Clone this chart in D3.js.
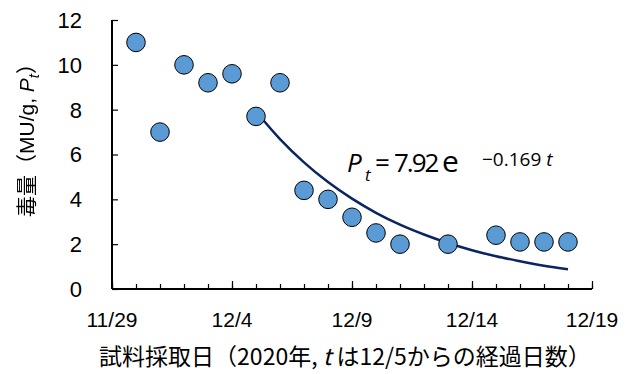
<!DOCTYPE html>
<html>
<head>
<meta charset="utf-8">
<script src="https://cdn.jsdelivr.net/npm/d3@7"></script>
<style>
  body { margin: 0; background: #fff; }
  svg { display: block; }
</style>
</head>
<body>
<script>
// sample dates (day offset from 11/29) and toxin values
var sampleDays = [1, 2, 3, 4, 5, 6, 7, 8, 9, 10, 11, 12, 14, 16, 17, 18, 19];
var toxin = [11.0, 7.0, 10.0, 9.2, 9.6, 7.7, 9.2, 4.4, 4.0, 3.2, 2.5, 2.0, 2.0, 2.4, 2.1, 2.1, 2.1];
// fitted curve, read at each day from 12/5 (t=0) to 12/18
var fitDays = [6, 7, 8, 9, 10, 11, 12, 13, 14, 15, 16, 17, 18, 19];
var fitVals = [7.92, 6.69, 5.65, 4.77, 4.03, 3.40, 2.87, 2.43, 2.05, 1.73, 1.46, 1.24, 1.04, 0.88];
var xTickDays = [0, 5, 10, 15, 20];
var xTickLabels = ["11/29", "12/4", "12/9", "12/14", "12/19"];
var yTicks = [0, 2, 4, 6, 8, 10, 12];

var width = 634, height = 374;
var margin = {top: 20, right: 42, bottom: 85, left: 112};
var plotW = width - margin.left - margin.right;
var plotH = height - margin.top - margin.bottom;

var svg = d3.select("body").append("svg")
    .attr("width", width)
    .attr("height", height);

// filter forcing glyphs to plain black (keeps alpha)
svg.append("defs").append("filter")
    .attr("id", "black")
    .append("feColorMatrix")
    .attr("type", "matrix")
    .attr("values", "0 0 0 0 0  0 0 0 0 0  0 0 0 0 0  0 0 0 1 0");

var g = svg.append("g")
    .attr("transform", "translate(" + margin.left + "," + margin.top + ")");

var x = d3.scaleLinear().domain([0, 20]).range([0, plotW]);
var y = d3.scaleLinear().domain([0, 12]).range([plotH, 0]);

var numFont = "'Liberation Sans', Arial, sans-serif";
var jpFont = "'Noto Sans CJK JP', 'Noto Sans CJK SC', sans-serif";

// minor ticks on x (every day), inside
var xMinor = g.append("g")
    .attr("transform", "translate(0," + plotH + ")")
    .call(d3.axisTop(x).tickValues(d3.range(0, 21)).tickSize(5).tickFormat(""));
xMinor.select(".domain").remove();
xMinor.selectAll("line").attr("stroke", "#000").attr("stroke-width", 1.2);

// major ticks on x
var xAxis = g.append("g")
    .attr("transform", "translate(0," + plotH + ")")
    .call(d3.axisTop(x).tickValues(xTickDays).tickSize(8).tickFormat(""));
xAxis.select(".domain").remove();
xAxis.selectAll("line").attr("stroke", "#000").attr("stroke-width", 1.2);

g.selectAll(".xlab")
    .data(xTickDays)
    .enter().append("text")
    .attr("class", "xlab")
    .attr("x", function(d) { return x(d); })
    .attr("y", plotH + 38)
    .attr("text-anchor", "middle")
    .style("fill", "#000")
    .style("font-family", numFont)
    .style("font-size", "21px")
    .text(function(d, i) { return xTickLabels[i]; });

// y axis
var yAxis = g.append("g")
    .call(d3.axisRight(y).tickValues(yTicks).tickSize(6).tickFormat(""));
yAxis.select(".domain").remove();
yAxis.selectAll("line").attr("stroke", "#000").attr("stroke-width", 1.2);

g.selectAll(".ylab")
    .data(yTicks)
    .enter().append("text")
    .attr("class", "ylab")
    .attr("x", -30)
    .attr("y", function(d) { return y(d); })
    .attr("dy", "0.36em")
    .attr("text-anchor", "end")
    .style("fill", "#000")
    .style("font-family", numFont)
    .style("font-size", "22px")
    .text(function(d) { return d; });

// axis lines
g.append("line")
    .attr("x1", 0).attr("x2", 0)
    .attr("y1", y(12)).attr("y2", plotH)
    .attr("stroke", "#000").attr("stroke-width", 2);
g.append("line")
    .attr("x1", 0).attr("x2", x(20))
    .attr("y1", plotH).attr("y2", plotH)
    .attr("stroke", "#000").attr("stroke-width", 2);

// fitted curve
var line = d3.line()
    .x(function(d, i) { return x(fitDays[i]); })
    .y(function(d) { return y(d); })
    .curve(d3.curveMonotoneX);

g.append("path")
    .datum(fitVals)
    .attr("d", line)
    .attr("fill", "none")
    .attr("stroke", "#0b2563")
    .attr("stroke-width", 2.5);

// points
g.selectAll(".dot")
    .data(toxin)
    .enter().append("circle")
    .attr("class", "dot")
    .attr("cx", function(d, i) { return x(sampleDays[i]); })
    .attr("cy", function(d) { return y(d); })
    .attr("r", 9.3)
    .attr("fill", "#5b9bd5")
    .attr("stroke", "#000")
    .attr("stroke-width", 1);

// equation, one text element
var eq = svg.append("text")
    .style("fill", "#000")
    .style("font-family", "'Open Sans', 'Noto Sans', sans-serif")
    .style("font-size", "26px");
eq.append("tspan").attr("x", 347).attr("y", 172)
    .style("font-style", "italic").text("P");
eq.append("tspan").attr("x", 365).attr("y", 181)
    .style("font-size", "17px").style("font-style", "italic").text("t");
eq.append("tspan").attr("x", 375).attr("y", 172).text("=");
eq.append("tspan").attr("x", 394).attr("y", 172)
    .style("letter-spacing", "-2px").text("7.92");
eq.append("tspan").attr("x", 442).attr("y", 172)
    .style("font-size", "30px").text("e");
eq.append("tspan").attr("x", 482).attr("y", 166)
    .style("font-size", "19px").text("\u22120.169 ");
eq.append("tspan").style("font-size", "19px").style("font-style", "italic").text("t");

// y axis title
var yt = svg.append("g")
    .attr("filter", "url(#black)")
    .append("text")
    .attr("transform", "translate(34,135) rotate(-90)")
    .attr("text-anchor", "middle")
    .style("fill", "#000")
    .style("font-family", jpFont)
    .style("font-size", "21px");
yt.append("tspan").text("毒量（");
yt.append("tspan").style("font-family", numFont).text("MU/g,  ");
yt.append("tspan").style("font-style", "italic").style("font-family", numFont).text("P");
yt.append("tspan").style("font-style", "italic").style("font-family", numFont)
    .style("font-size", "15px").attr("dy", 5).text("t");
yt.append("tspan").attr("dy", -5).text("）");

// x axis title
var xt = svg.append("text")
    .attr("x", 345)
    .attr("y", 365)
    .attr("text-anchor", "middle")
    .style("fill", "#000")
    .style("font-family", jpFont)
    .style("font-size", "23px");
xt.append("tspan").text("試料採取日（2020年,");
xt.append("tspan").style("font-style", "italic").text(" t ");
xt.append("tspan").text("は12/5からの経過日数）");
</script>
</body>
</html>
